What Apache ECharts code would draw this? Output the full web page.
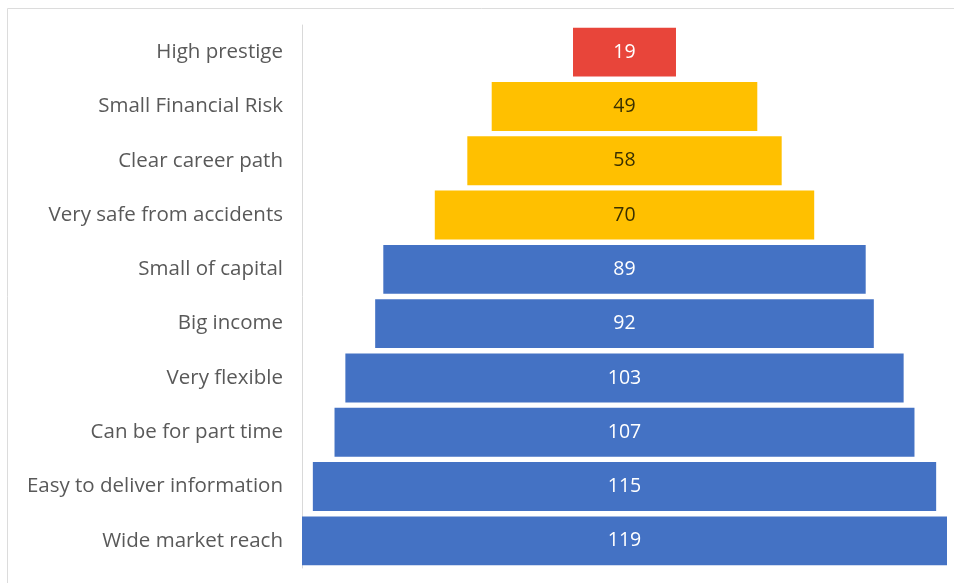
<!DOCTYPE html>
<html>
<head>
<meta charset="utf-8">
<script src="https://cdn.jsdelivr.net/npm/echarts@6/dist/echarts.min.js"></script>
<style>
html,body{margin:0;padding:0;background:#fff;}
#c{width:954px;height:583px;}
</style>
</head>
<body>
<div id="c"></div>
<script>
const categories = ["High prestige","Small Financial Risk","Clear career path","Very safe from accidents","Small of capital","Big income","Very flexible","Can be for part time","Easy to deliver information","Wide market reach"];
const values = [19,49,58,70,89,92,103,107,115,119];
const barColors = ["#E8453A","#FFC000","#FFC000","#FFC000","#4472C4","#4472C4","#4472C4","#4472C4","#4472C4","#4472C4"];
const labelColors = ["#ffffff","#3a3000","#3a3000","#3a3000","#ffffff","#ffffff","#ffffff","#ffffff","#ffffff","#ffffff"];

const maxVal = Math.max(...values);
const chart = echarts.init(document.getElementById('c'), null, {renderer:'canvas'});
chart.setOption({
  animation:false,
  backgroundColor:'#ffffff',
  graphic:[{type:'rect',shape:{x:7.5,y:8.5,width:1000,height:700},style:{fill:'none',stroke:'#dcdcdc',lineWidth:1},silent:true,z:-1}],
  grid:{left:302,right:7,top:25,bottom:15,containLabel:false},
  xAxis:{type:'value',min:0,max:maxVal,show:false},
  yAxis:{type:'category',data:categories,inverse:true,
    axisLine:{show:true,lineStyle:{color:'#d9d9d9',width:1}},
    axisTick:{show:false},
    axisLabel:{color:'#595959',fontSize:20.5,margin:19,fontFamily:'Open Sans, Noto Sans, sans-serif'}},
  series:[
    {type:'bar',stack:'s',barCategoryGap:'10%',silent:true,
     itemStyle:{color:'transparent'},
     data:values.map(v=>(maxVal-v)/2)},
    {type:'bar',stack:'s',barCategoryGap:'10%',
     data:values.map((v,i)=>({value:v,itemStyle:{color:barColors[i]},label:{color:labelColors[i]}})),
     label:{show:true,position:'inside',fontSize:19.5,fontFamily:'Open Sans, Noto Sans, sans-serif'}}
  ]
});
</script>
</body>
</html>
